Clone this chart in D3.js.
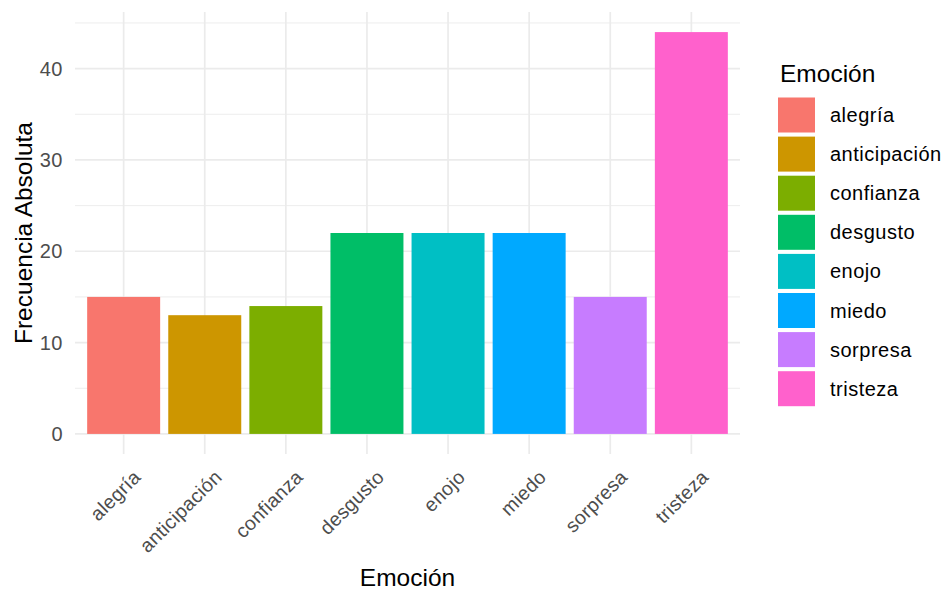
<!DOCTYPE html>
<html>
<head>
<meta charset="utf-8">
<script src="https://cdn.jsdelivr.net/npm/d3@7"></script>
<style>
  body { margin: 0; background: #fff; }
  svg { display: block; font-family: "Liberation Sans", Arial, sans-serif; }
</style>
</head>
<body>
<svg id="chart" width="944" height="590"></svg>
<script>
const categories = ["alegría", "anticipación", "confianza", "desgusto", "enojo", "miedo", "sorpresa", "tristeza"];
const values = [15, 13, 14, 22, 22, 22, 15, 44];
const colors = ["#F8766D", "#CD9600", "#7CAE00", "#00BE67", "#00BFC4", "#00A9FF", "#C77CFF", "#FF61CC"];
const yTicks = [0, 10, 20, 30, 40];
const yMinor = [5, 15, 25, 35, 45];
const xTitle = "Emoción";
const yTitle = "Frecuencia Absoluta";
const legendTitle = "Emoción";

const svg = d3.select("#chart");
const panel = { left: 75, right: 740, top: 12, bottom: 454 };

const maxV = d3.max(values);
const yPad = maxV * 0.05;
const y = d3.scaleLinear().domain([-yPad, maxV + yPad]).range([panel.bottom, panel.top]);

// discrete x with 0.6 expansion on each side
const n = categories.length;
const xPos = d3.scaleLinear().domain([0.4, n + 0.6]).range([panel.left, panel.right]);
const x = d3.scaleOrdinal().domain(categories).range(categories.map((d, i) => xPos(i + 1)));
const bw = (xPos(2) - xPos(1)) * 0.9;
const color = d3.scaleOrdinal().domain(categories).range(colors);

const grid = svg.append("g");
grid.selectAll("line.minor").data(yMinor).join("line")
  .attr("x1", panel.left).attr("x2", panel.right)
  .attr("y1", d => y(d)).attr("y2", d => y(d))
  .attr("stroke", "#EBEBEB").attr("stroke-width", 0.9);
grid.selectAll("line.majy").data(yTicks).join("line")
  .attr("x1", panel.left).attr("x2", panel.right)
  .attr("y1", d => y(d)).attr("y2", d => y(d))
  .attr("stroke", "#EBEBEB").attr("stroke-width", 1.7);
grid.selectAll("line.majx").data(categories).join("line")
  .attr("x1", d => x(d)).attr("x2", d => x(d))
  .attr("y1", panel.top).attr("y2", panel.bottom)
  .attr("stroke", "#EBEBEB").attr("stroke-width", 1.7);

// bars
svg.append("g").selectAll("rect").data(categories).join("rect")
  .attr("x", d => x(d) - bw / 2)
  .attr("width", bw)
  .attr("y", (d, i) => y(values[i]))
  .attr("height", (d, i) => y(0) - y(values[i]))
  .attr("fill", d => color(d));

// y tick labels
svg.append("g").selectAll("text").data(yTicks).join("text")
  .attr("x", 63).attr("y", d => y(d)).attr("dy", "0.35em")
  .attr("text-anchor", "end")
  .attr("font-size", 20).attr("letter-spacing", 0.5).attr("fill", "#4D4D4D")
  .text(d => d);

// x tick labels rotated 45
svg.append("g").selectAll("text").data(categories).join("text")
  .attr("transform", d => `translate(${x(d) + 8},468) rotate(-45)`)
  .attr("dy", "0.75em")
  .attr("text-anchor", "end")
  .attr("font-size", 19.5).attr("letter-spacing", 0.3).attr("fill", "#4D4D4D")
  .text(d => d);

// axis titles
svg.append("text")
  .attr("x", (panel.left + panel.right) / 2).attr("y", 586)
  .attr("text-anchor", "middle").attr("font-size", 24.5).attr("fill", "#000")
  .text(xTitle);
svg.append("text")
  .attr("transform", `translate(32,${(panel.top + panel.bottom) / 2}) rotate(-90)`)
  .attr("text-anchor", "middle").attr("font-size", 24.5).attr("fill", "#000")
  .text(yTitle);

// legend
const lg = svg.append("g");
lg.append("text").attr("x", 780).attr("y", 82)
  .attr("font-size", 24.5).attr("fill", "#000").text(legendTitle);
const step = 39.1;
const items = lg.selectAll("g.item").data(categories).join("g")
  .attr("transform", (d, i) => `translate(778,${97.5 + i * step})`);
items.append("rect").attr("width", 37).attr("height", 35)
  .attr("fill", d => color(d));
items.append("text").attr("x", 52).attr("y", 17.5).attr("dy", "0.35em")
  .attr("font-size", 20).attr("letter-spacing", 0.5).attr("fill", "#000")
  .text(d => d);
</script>
</body>
</html>
